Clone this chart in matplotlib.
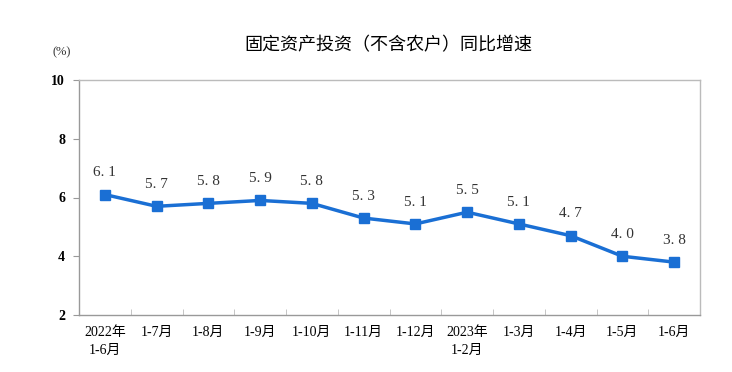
import matplotlib
matplotlib.use("Agg")
import matplotlib.pyplot as plt
import numpy as np

categories = ["2022年\n1-6月", "1-7月", "1-8月", "1-9月", "1-10月", "1-11月", "1-12月",
              "2023年\n1-2月", "1-3月", "1-4月", "1-5月", "1-6月"]
values = [6.1, 5.7, 5.8, 5.9, 5.8, 5.3, 5.1, 5.5, 5.1, 4.7, 4.0, 3.8]
yticks = [2, 4, 6, 8, 10]

fam = ['Liberation Serif', 'Noto Sans CJK SC']
plt.rcParams['font.family'] = fam

fig = plt.figure(figsize=(7.32, 3.72), dpi=100)
ax = fig.add_axes([79/732, 1 - 315/372, (700-79)/732, (315-80)/372])

x = np.arange(len(values))
color = '#1a6fd4'
ax.plot(x, values, color=color, lw=2.5, marker='s', ms=7, zorder=3)
for xi, v in zip(x, values):
    ax.annotate(f"{int(v)}. {int(round(v*10)) % 10}", (xi, v), xytext=(0, 11),
                textcoords='offset points', ha='center', va='bottom',
                fontsize=11, color='#333333')

ax.set_xlim(-0.5, len(values) - 0.5)
ax.set_ylim(2, 10)
ax.set_yticks(yticks)
ax.set_yticklabels([str(t) for t in yticks], fontsize=10, fontweight='bold')
ax.tick_params(axis='y', direction='out', length=4, color='#999999', pad=6)

ax.set_xticks(x)
ax.set_xticklabels(categories, fontsize=10, linespacing=1.5)
ax.tick_params(axis='x', which='major', length=0, pad=8)
ax.set_xticks(np.arange(0.5, len(values) - 1, 1), minor=True)
ax.tick_params(axis='x', which='minor', direction='in', length=4, color='#bbbbbb')

for s in ax.spines.values():
    s.set_color('#bbbbbb')
    s.set_linewidth(1)
ax.spines['left'].set_color('#999999')
ax.spines['bottom'].set_color('#999999')

fig.text(388/732, 1 - 45/372, "固定资产投资（不含农户）同比增速", ha='center', va='center',
         fontsize=13, family=['Noto Sans CJK SC'])
fig.text(62/732, 1 - 52/372, "(%)", ha='center', va='center', fontsize=9, color='#333333')

fig.savefig("out.png", dpi=100)
